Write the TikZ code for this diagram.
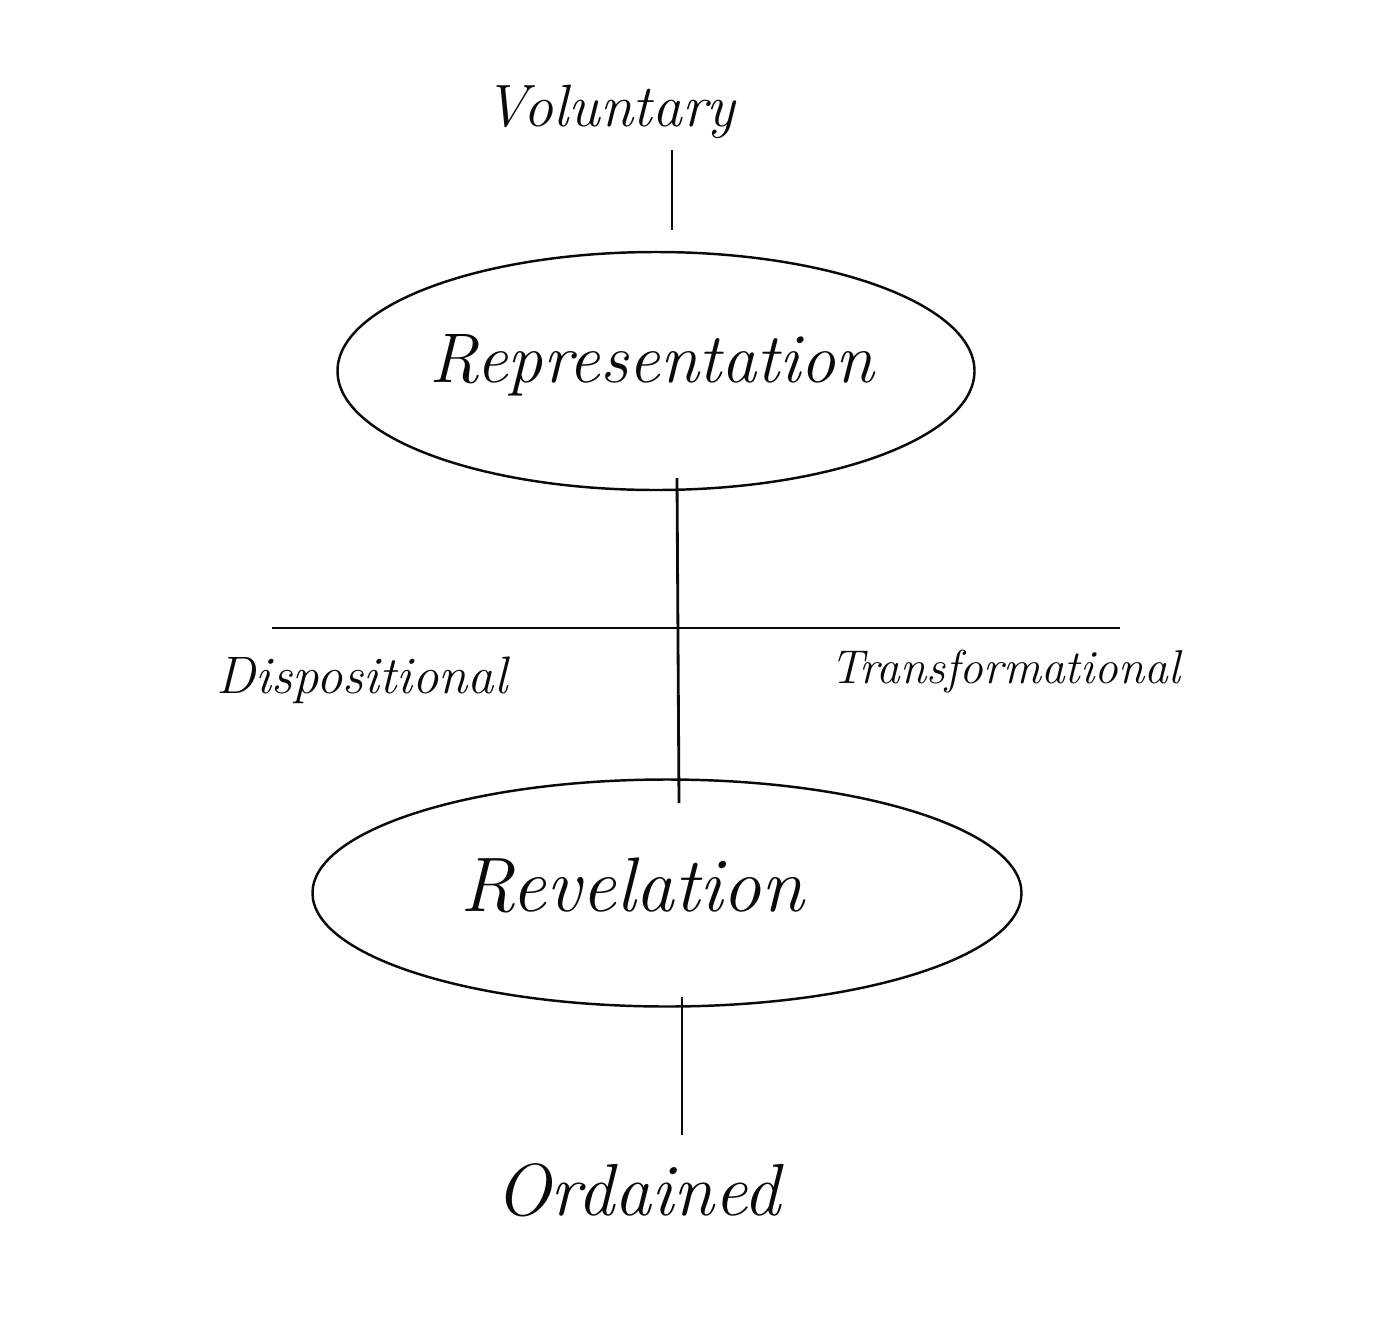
\documentclass[tikz,border=0pt]{standalone}
\usepackage{tikz}
\usetikzlibrary{shapes.geometric, positioning}
\definecolor{InkBlack}{RGB}{10, 10, 10}

\tikzset{
    hand/.style={font=\itshape, text=InkBlack, inner sep=0pt},
    oval/.style={ellipse, draw=InkBlack, line width=0.7pt, inner sep=0pt},
    stroke/.style={draw=InkBlack, line width=0.8pt}
}

\begin{document}
\begin{tikzpicture}
    % Canvas, same proportions as the sketch
    \useasboundingbox[fill=white] (0, 0) rectangle (13.94, -13.16);

    % Top label and its short stem
    \node[hand, font=\itshape\fontsize{17}{20}\selectfont] (vol) at (6.10, -1.12) {Voluntary};
    \coordinate (volstem) at (6.72, -1.50);
    \coordinate (volend) at (6.72, -2.30);
    \draw[stroke] (volstem) -- (volend);

    % Upper ellipse
    \node[oval, minimum width=6.37cm, minimum height=2.38cm] (rep) at (6.56, -3.71) {};
    \node[hand, font=\itshape\fontsize{20}{24}\selectfont] (reptext) at (6.52, -3.65) {Representation};

    % Long stem through the cross bar
    \coordinate (stemtop) at (6.77, -4.78);
    \coordinate (stembot) at (6.79, -8.03);
    \draw[stroke] (stemtop) -- (stembot);

    % Cross bar with its two labels
    \coordinate (barleft) at (2.72, -6.28);
    \coordinate (barright) at (11.20, -6.28);
    \draw[stroke, line width=0.6pt] (barleft) -- (barright);
    \node[hand, font=\itshape\fontsize{15}{18}\selectfont] (disp) at (3.62, -6.80) {Dispositional};
    \node[hand, font=\itshape\fontsize{13.5}{16}\selectfont] (trans) at (10.05, -6.72) {Transformational};

    % Lower ellipse
    \node[oval, minimum width=7.09cm, minimum height=2.27cm] (rev) at (6.67, -8.93) {};
    \node[hand, font=\itshape\fontsize{22}{26}\selectfont] (revtext) at (6.32, -8.85) {Revelation};

    % Bottom stem and label
    \coordinate (lowtop) at (6.82, -9.97);
    \coordinate (lowbot) at (6.82, -11.35);
    \draw[stroke] (lowtop) -- (lowbot);
    \node[hand, font=\itshape\fontsize{21}{25}\selectfont] (ord) at (6.38, -11.90) {Ordained};
\end{tikzpicture}
\end{document}
